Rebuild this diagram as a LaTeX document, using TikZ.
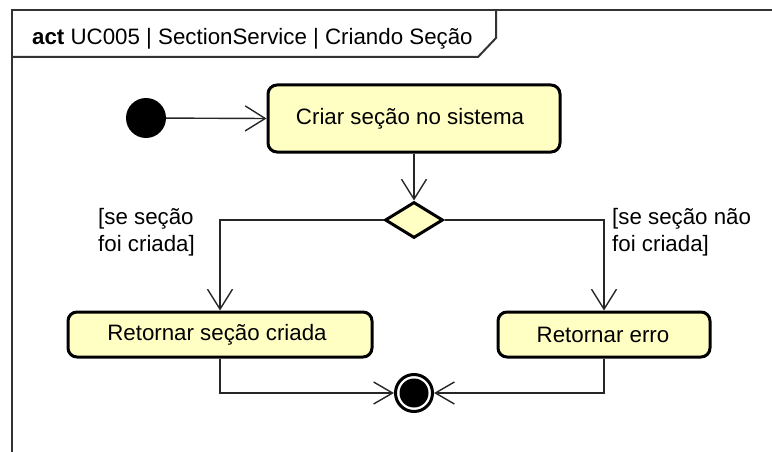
\documentclass[tikz,border=0pt]{standalone}
\usepackage{fontspec}
\setmainfont{Liberation Sans}
\usetikzlibrary{arrows.meta,shapes.geometric}
\definecolor{actfill}{RGB}{255,255,196}
\tikzset{
  actbox/.style={draw=black, line width=3pt, fill=actfill, rounded corners=9pt, inner sep=0pt},
  decbox/.style={draw=black, line width=3pt, fill=actfill, diamond, inner sep=0pt, minimum width=58pt, minimum height=36pt},
  flow/.style={draw=black!85, line width=1.4pt, -{Straight Barb[length=20pt,width=25pt,line width=1.4pt]}},
  flowend/.style={draw=black!85, line width=1.4pt, -{Straight Barb[length=19pt,width=22pt,line width=1.4pt]}},
  lbl/.style={inner sep=0pt, align=left},
  txt/.style={font=\fontsize{22.3}{27}\selectfont}
}
\begin{document}
\begin{tikzpicture}[x=1pt,y=-1pt, txt]
\useasboundingbox (0,0) rectangle (772,452);
% frame
\draw[line width=1.3pt, black!80] (12,452) -- (12,10) -- (772,10);
\draw[line width=2pt, black!80] (12,57) -- (478,57) -- (496,38) -- (496,10);
\node[anchor=base west, inner sep=0pt] (title) at (32,45) {\textbf{act} UC005 | SectionService | Criando Seção};
% nodes
\node[circle, fill=black, minimum size=40pt, inner sep=0pt] (init) at (146,118) {};
\node[actbox, minimum width=292pt, minimum height=67pt] (a1) at (414,118.5) {Criar seção no sistema\hspace*{8pt}};
\node[decbox] (dec) at (414,220) {};
\node[actbox, minimum width=304pt, minimum height=45pt] (ok) at (220,334.5) {Retornar seção criada\hspace*{6pt}};
\node[actbox, minimum width=212pt, minimum height=45pt] (err) at (604,334.5) {Retornar erro\hspace*{2pt}};
\node[circle, draw=black, line width=3pt, fill=white, minimum size=37pt, inner sep=0pt] (fin) at (414,393) {};
\node[circle, fill=black, minimum size=29pt, inner sep=0pt] (finin) at (fin.center) {};
% labels
\node[lbl, anchor=north west] (lok) at (98,208) {[se seção\\foi criada]};
\node[lbl, anchor=north west] (lerr) at (612,208) {[se seção não\\foi criada]};
% connectors
\draw[flow] (init) -- (a1.west);
\draw[flow] (a1.south) -- (dec.north);
\draw[flow] (dec.west) -| (ok.north);
\draw[flow] (dec.east) -| (err.north);
\draw[flowend] (ok.south) |- (fin.west);
\draw[flowend] (err.south) |- (fin.east);
\end{tikzpicture}
\end{document}
